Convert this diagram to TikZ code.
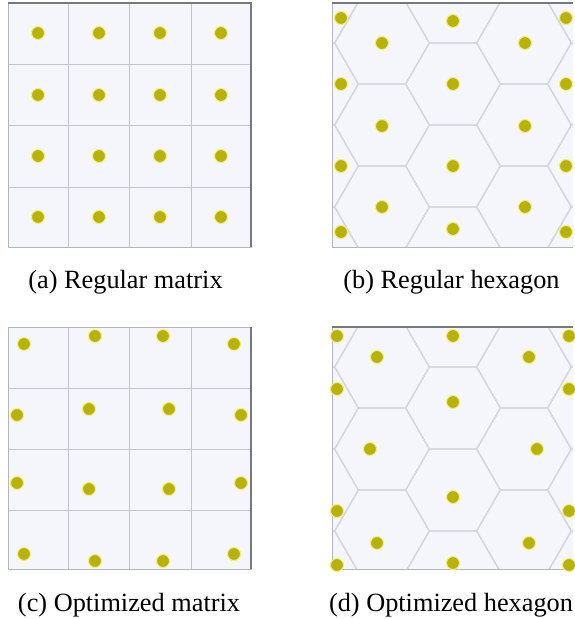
\documentclass[tikz,border=0pt]{standalone}
\usepackage{fontspec}
\setmainfont{Liberation Serif}

\definecolor{panelbg}{HTML}{F4F6FB}
\definecolor{gridgray}{HTML}{C2C5CD}
\definecolor{hexgray}{HTML}{D6D7DE}
\definecolor{framegray}{HTML}{76787D}
\definecolor{sensor}{HTML}{B8B300}
\definecolor{glow}{HTML}{F0EC8C}

\tikzset{
  cellline/.style={gridgray, line width=1pt},
  hexline/.style={hexgray, line width=1.3pt},
  rimlight/.style={framegray!55, line width=0.9pt},
  rimdark/.style={framegray, line width=2pt},
  sensordot/.style={fill=sensor, draw=glow, line width=1pt},
  caption/.style={font=\fontsize{26.3}{30}\selectfont, inner sep=0pt, anchor=base},
}

% flat-topped hexagon cells round the middle column at x=453
\newcommand{\hexcells}[1]{%
  \foreach \k in {-2,...,2} {
    \foreach \j in {-1,...,3} {
      \pgfmathsetmacro{\cx}{453+71*\k}
      \pgfmathsetmacro{\cy}{#1+82*\j-41*mod(abs(\k),2)}
      \draw[hexline] (\cx+47.3,\cy) -- (\cx+23.65,\cy+41) -- (\cx-23.65,\cy+41)
        -- (\cx-47.3,\cy) -- (\cx-23.65,\cy-41) -- (\cx+23.65,\cy-41) -- cycle;
    }
  }
}

\begin{document}
\begin{tikzpicture}[x=1pt, y=-1pt]
  \useasboundingbox (0,0) rectangle (574,619);

  % (a) regular matrix
  \fill[panelbg] (8,3) rectangle (251,247);
  \foreach \p in {68,129,191} \draw[cellline] (\p,3) -- (\p,247);
  \foreach \p in {64,125,187} \draw[cellline] (8,\p) -- (251,\p);
  \draw[rimlight] (8,3) rectangle (251,247);
  \draw[rimdark] (8,3) -- (251,3) -- (251,247);
  \foreach \x in {38,99,160,221}
    \foreach \y in {33,95,156,217}
      \draw[sensordot] (\x,\y) circle (6.5);

  % (b) regular hexagon
  \begin{scope}
    \clip (332,3) rectangle (573,247);
    \fill[panelbg] (332,3) rectangle (573,247);
    \hexcells{84}
  \end{scope}
  \draw[rimlight] (573,247) -- (332,247) -- (332,3);
  \draw[rimdark] (332,3) -- (573,3);
  \foreach \x/\y in {341/18,453/21,566/18,382/43,525/43,341/84,453/84,566/84,
                     382/126,525/126,341/166,453/166,566/166,382/207,525/207,
                     341/232,453/229,566/232}
    \draw[sensordot] (\x,\y) circle (6.5);

  % (c) optimized matrix
  \fill[panelbg] (8,327) rectangle (251,569);
  \foreach \p in {68,129,191} \draw[cellline] (\p,327) -- (\p,569);
  \foreach \p in {388,449,510} \draw[cellline] (8,\p) -- (251,\p);
  \draw[rimlight] (8,327) rectangle (251,569);
  \draw[rimdark] (251,327) -- (251,569);
  \foreach \x/\y in {24/344,95/336,163/336,234/344,17/415,89/409,169/409,241/415,
                     17/483,89/489,169/489,241/483,24/554,95/561,163/561,234/554}
    \draw[sensordot] (\x,\y) circle (6.5);

  % (d) optimized hexagon
  \begin{scope}
    \clip (332,327) rectangle (573,569);
    \fill[panelbg] (332,327) rectangle (573,569);
    \hexcells{408}
  \end{scope}
  \draw[rimlight] (573,569) -- (332,569) -- (332,327);
  \draw[rimdark] (332,327) -- (573,327);
  \foreach \x/\y in {337/336,453/336,569/336,377/357,529/357,337/389,569/389,
                     453/402,370/449,537/449,453/497,337/511,569/511,377/543,
                     529/543,337/565,453/563,569/565}
    \draw[sensordot] (\x,\y) circle (6.5);

  % captions
  \node[caption] (capA) at (125.5,288) {(a) Regular matrix};
  \node[caption] (capB) at (451.5,288) {(b) Regular hexagon};
  \node[caption] (capC) at (129,611) {(c) Optimized matrix};
  \node[caption] (capD) at (451,611) {(d) Optimized hexagon};
\end{tikzpicture}
\end{document}
